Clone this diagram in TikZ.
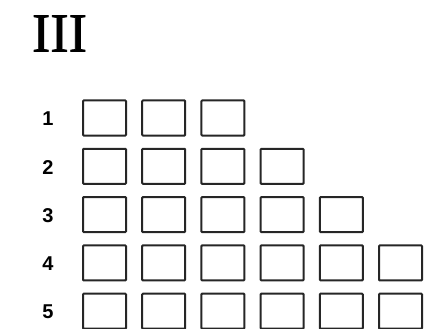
\documentclass[tikz,border=0pt]{standalone}
\usepackage{fontspec}
\setmainfont{Liberation Serif}
\setsansfont{Liberation Sans}
\newfontfamily\titelfont[FakeBold=1.2]{Liberation Serif}
\usetikzlibrary{positioning}
\tikzset{
  feld/.style={draw=black!85, line width=2pt, minimum width=43pt, minimum height=35pt, inner sep=0pt, rounded corners=0.8pt},
  zeile/.style={font=\sffamily\bfseries\fontsize{20}{20}\selectfont, inner sep=0pt}
}

\begin{document}
\begin{tikzpicture}[x=1pt,y=-1pt]
  \useasboundingbox (0,0) rectangle (426,329);

  % Titel
  \node[font=\titelfont\fontsize{55}{60}\selectfont, inner sep=0pt] (titel) at (59.5,33.5) {III};

  % Zeilen mit Feldern
  \foreach \r/\n in {1/3,2/4,3/5,4/6,5/6}{
    \node[zeile] (z\r) at (48,{119+48.3*(\r-1)}) {\r};
    \foreach \c in {1,...,\n}
      \node[feld] (b\r-\c) at ({104.5+59.2*(\c-1)},{118+48.3*(\r-1)}) {};
  }

\end{tikzpicture}
\end{document}
